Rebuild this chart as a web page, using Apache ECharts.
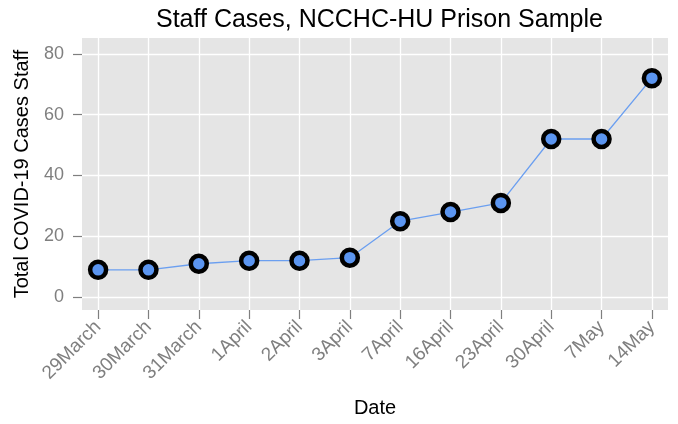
<!DOCTYPE html>
<html>
<head>
<meta charset="utf-8">
<script src="https://cdn.jsdelivr.net/npm/echarts@6/dist/echarts.min.js"></script>
<style>
  html, body { margin: 0; padding: 0; background: #fff; }
  #chart { width: 678px; height: 424px; }
</style>
</head>
<body>
<div id="chart"></div>
<script>
// dates on the x axis
var dates = ['29March', '30March', '31March', '1April', '2April', '3April',
             '7April', '16April', '23April', '30April', '7May', '14May'];
// total staff cases
var staffCases = [9, 9, 11, 12, 12, 13, 25, 28, 31, 52, 52, 72];
var yTicks = [0, 20, 40, 60, 80];

var xTicks = dates.map(function (d, i) { return i; });
var points = staffCases.map(function (v, i) { return [i, v]; });

var chart = echarts.init(document.getElementById('chart'));
var font = 'Liberation Sans, Arial, sans-serif';

var option = {
  backgroundColor: '#ffffff',
  animation: false,
  title: {
    text: 'Staff Cases, NCCHC-HU Prison Sample',
    left: 151,
    top: 3,
    textStyle: { fontFamily: font, fontSize: 25, fontWeight: 'normal', color: '#000' }
  },
  grid: {
    left: 82, right: 10, top: 38, bottom: 114,
    show: true,
    backgroundColor: '#e5e5e5',
    borderWidth: 0
  },
  xAxis: {
    type: 'value',
    min: -0.32,
    max: 11.32,
    name: 'Date',
    nameLocation: 'middle',
    nameGap: 88,
    nameTextStyle: { fontFamily: font, fontSize: 20, color: '#000' },
    axisLine: { show: false, onZero: false },
    axisTick: { show: true, length: 9, customValues: xTicks, lineStyle: { color: '#7f7f7f', width: 1.2 } },
    axisLabel: {
      customValues: xTicks,
      rotate: 45,
      margin: 14,
      fontFamily: font,
      fontSize: 19,
      color: '#7f7f7f',
      formatter: function (v) { return dates[Math.round(v)]; }
    },
    splitLine: { show: true, lineStyle: { color: '#ffffff', width: 1.3 } }
  },
  yAxis: {
    type: 'value',
    min: -4.2,
    max: 85.2,
    name: 'Total COVID-19 Cases Staff',
    nameLocation: 'middle',
    nameGap: 50,
    nameTextStyle: { fontFamily: font, fontSize: 20, color: '#000' },
    axisLine: { show: false, onZero: false },
    axisTick: { show: true, length: 9, customValues: yTicks, lineStyle: { color: '#7f7f7f', width: 1.2 } },
    axisLabel: {
      customValues: yTicks,
      margin: 18,
      fontFamily: font,
      fontSize: 18,
      color: '#7f7f7f'
    },
    splitLine: { show: true, lineStyle: { color: '#ffffff', width: 1.3 } }
  },
  series: [{
    type: 'line',
    data: points,
    symbol: 'circle',
    symbolSize: 16,
    lineStyle: { color: '#6b9ff0', width: 1.3 },
    itemStyle: { color: '#5b95f0', borderColor: '#000000', borderWidth: 4.5 }
  }]
};

chart.setOption(option);
</script>
</body>
</html>
